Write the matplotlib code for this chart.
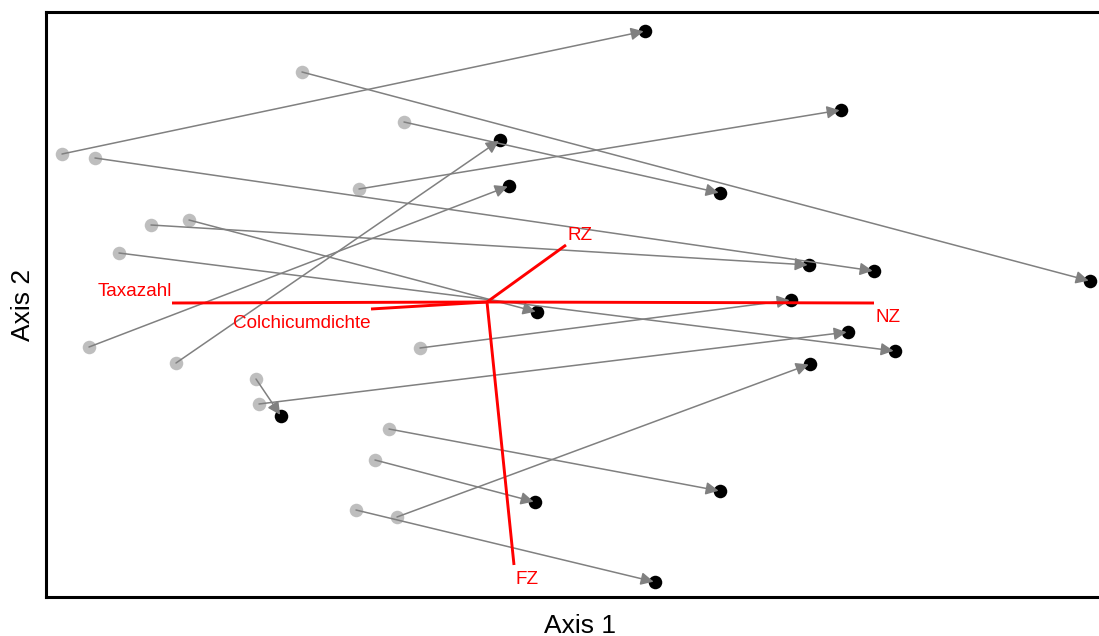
import matplotlib
matplotlib.use("Agg")
import matplotlib.pyplot as plt

plt.rcParams['font.family'] = ['Liberation Sans', 'DejaVu Sans']

# site scores: start (grey) and end (black)
x_start = [-4.25, -1.85, -3.92, -0.83, -1.28, -3.36, -2.98, -3.68, -3.98, -3.11,
           -0.67, -2.31, -2.28, -0.98, -1.12, -1.31, -0.90]
y_start = [1.48, 2.30, 1.44, 1.80, 1.13, 0.77, 0.82, 0.49, -0.45, -0.61,
           -0.46, -0.77, -1.02, -1.27, -1.58, -2.08, -2.15]
x_end = [1.58, 6.03, 3.87, 2.33, 3.54, 3.22, 0.50, 4.08, 0.22, 0.13,
         3.04, -2.06, 3.61, 2.33, 0.48, 1.68, 3.23]
y_end = [2.71, 0.21, 0.31, 1.09, 1.92, 0.37, -0.10, -0.49, 1.16, 1.62,
         0.02, -1.14, -0.30, -1.89, -2.00, -2.80, -0.62]

# environmental vectors
vec_names = ['RZ', 'NZ', 'FZ', 'Taxazahl', 'Colchicumdichte']
vec_x = [0.79, 3.87, 0.27, -3.15, -1.16]
vec_y = [0.57, -0.01, -2.63, -0.01, -0.07]

W, H = 1099, 636
fig = plt.figure(figsize=(W / 100, H / 100), dpi=100)
left_px, right_px, top_px, bottom_px = 46, 1114, 12, 597
ax = fig.add_axes([left_px / W, (H - bottom_px) / H,
                   (right_px - left_px) / W, (bottom_px - top_px) / H])
ax.set_xlim(-4.41, 6.27)
ax.set_ylim(-2.95, 2.90)

ax.scatter(x_start, y_start, s=95, color='#bebebe', zorder=2, linewidths=0)
ax.scatter(x_end, y_end, s=95, color='black', zorder=2, linewidths=0)

for xs, ys, xe, ye in zip(x_start, y_start, x_end, y_end):
    ax.annotate('', xy=(xe, ye), xytext=(xs, ys),
                arrowprops=dict(arrowstyle='-|>', color='#808080', lw=1.1,
                                mutation_scale=19, shrinkA=0, shrinkB=1),
                zorder=3)

for xv, yv in zip(vec_x, vec_y):
    ax.plot([0, xv], [0, yv], color='red', lw=2.1, zorder=4, solid_capstyle='butt')

label_style = {
    'RZ': dict(offset=(1, 1), ha='left', va='bottom'),
    'NZ': dict(offset=(1, -4), ha='left', va='top'),
    'FZ': dict(offset=(1, -4.5), ha='left', va='top'),
    'Taxazahl': dict(offset=(0, 2), ha='right', va='bottom'),
    'Colchicumdichte': dict(offset=(0, -4.5), ha='right', va='top'),
}
for name, xv, yv in zip(vec_names, vec_x, vec_y):
    st = label_style[name]
    ax.annotate(name, xy=(xv, yv), xytext=st['offset'], textcoords='offset points',
                ha=st['ha'], va=st['va'], color='red', fontsize=13.6, zorder=5)

ax.set_xticks([])
ax.set_yticks([])
for sp in ax.spines.values():
    sp.set_linewidth(2.2)
ax.set_xlabel('Axis 1', fontsize=19, labelpad=12)
ax.set_ylabel('Axis 2', fontsize=19, labelpad=8)

fig.savefig('out.png', dpi=100)
